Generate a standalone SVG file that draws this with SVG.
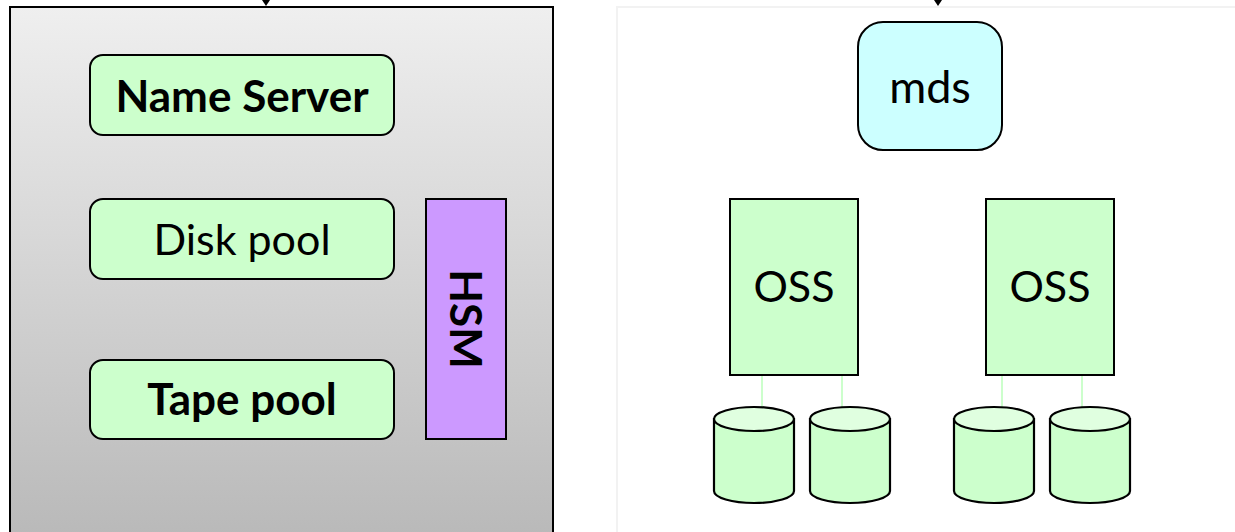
<svg xmlns="http://www.w3.org/2000/svg" width="1235" height="532" viewBox="0 0 1235 532">
<defs>
<linearGradient id="gbg" x1="0" y1="0" x2="0" y2="1">
<stop offset="0" stop-color="#efefef"/>
<stop offset="1" stop-color="#b8b8b8"/>
</linearGradient>
</defs>
<style>
.box{fill:#ccffcc;stroke:#000;stroke-width:2}
.t{font-family:Lato,"Open Sans",sans-serif;font-size:43px;fill:#000;text-anchor:middle}
.b{font-weight:bold;font-size:44px}
.cyl{fill:#ccffcc;stroke:#000;stroke-width:2.2}
.cap{fill:#e0ffe0;stroke:#000;stroke-width:2.2}
.lnk{stroke:#ccffcc;stroke-width:2;fill:none}
</style>
<g id="castor">
<rect x="10" y="7" width="543" height="540" fill="url(#gbg)" stroke="#000" stroke-width="2"/>
</g>
<g id="lustre">
<rect x="617" y="7" width="640" height="540" fill="#fff" stroke="#f2f2f2" stroke-width="2"/>
</g>
<g id="nameserver">
<rect class="box" x="90" y="55" width="304" height="80" rx="13"/>
<text class="t b" x="242" y="112">Name Server</text>
</g>
<g id="diskpool">
<rect class="box" x="90" y="199" width="304" height="80" rx="13"/>
<text class="t" x="242" y="255">Disk pool</text>
</g>
<g id="tapepool">
<rect class="box" x="90" y="360" width="304" height="79" rx="13"/>
<text class="t b" x="242" y="415">Tape pool</text>
</g>
<g id="hsm">
<rect x="426" y="199" width="80" height="240" fill="#cc99ff" stroke="#000" stroke-width="2"/>
<text class="t b" transform="translate(450 319) rotate(90)" x="0" y="0">HSM</text>
</g>
<g id="mds">
<rect x="858" y="22" width="144" height="128" rx="25" fill="#ccffff" stroke="#000" stroke-width="2"/>
<text class="t" x="930" y="103" style="font-size:45px">mds</text>
</g>
<g id="oss1">
<rect class="box" x="730" y="199" width="128" height="176"/>
<text class="t" x="794" y="302">OSS</text>
</g>
<g id="oss2">
<rect class="box" x="986" y="199" width="128" height="176"/>
<text class="t" x="1050" y="302">OSS</text>
</g>
<g id="connectors">
<polygon points="262,0 270,0 266,6" fill="#000"/>
<polygon points="934,0 942,0 938,6" fill="#000"/>
<line class="lnk" x1="762" y1="376" x2="762" y2="408"/>
<line class="lnk" x1="842" y1="376" x2="842" y2="408"/>
<line class="lnk" x1="1002" y1="376" x2="1002" y2="408"/>
<line class="lnk" x1="1082" y1="376" x2="1082" y2="408"/>
</g>
<g id="disk1">
<path class="cyl" d="M714 419 L714 491 A40 12 0 0 0 794 491 L794 419 Z"/>
<ellipse class="cap" cx="754" cy="419" rx="40" ry="12"/>
</g>
<g id="disk2">
<path class="cyl" d="M810 419 L810 491 A40 12 0 0 0 890 491 L890 419 Z"/>
<ellipse class="cap" cx="850" cy="419" rx="40" ry="12"/>
</g>
<g id="disk3">
<path class="cyl" d="M954 419 L954 491 A40 12 0 0 0 1034 491 L1034 419 Z"/>
<ellipse class="cap" cx="994" cy="419" rx="40" ry="12"/>
</g>
<g id="disk4">
<path class="cyl" d="M1050 419 L1050 491 A40 12 0 0 0 1130 491 L1130 419 Z"/>
<ellipse class="cap" cx="1090" cy="419" rx="40" ry="12"/>
</g>
</svg>
